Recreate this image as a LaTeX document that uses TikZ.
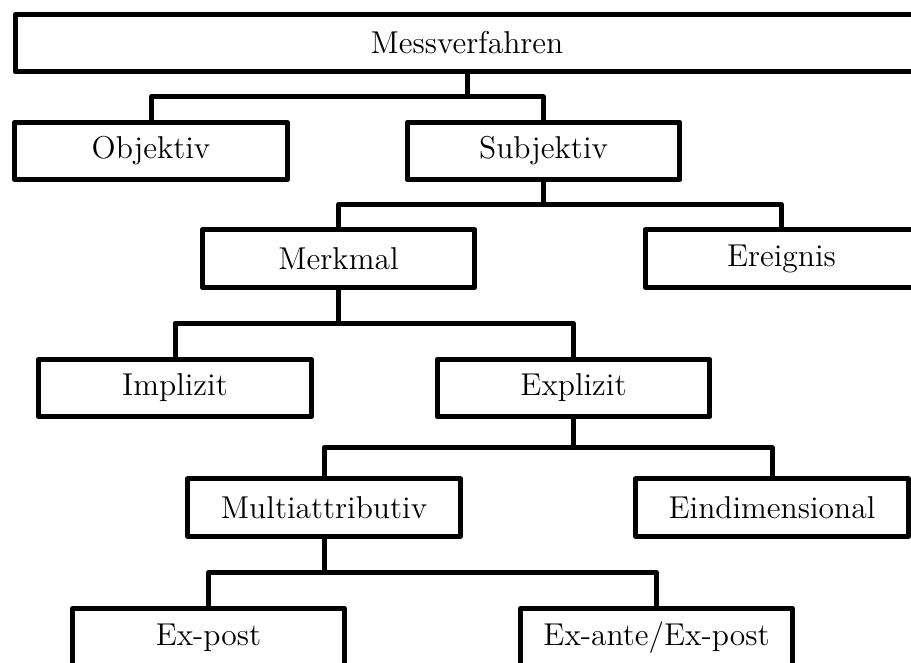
\documentclass[tikz,border=0pt]{standalone}
\usetikzlibrary{calc}

\tikzset{
    box/.style={draw, line width=1.9pt, line join=round, minimum width=103.7pt, minimum height=21.7pt, inner sep=0pt, font=\fontsize{12}{14}\selectfont},
    link/.style={draw, line width=1.9pt, line join=round}
}

\begin{document}
\begin{tikzpicture}[x=0.38pt, y=-0.38pt]
    \useasboundingbox (0,0) rectangle (911,663);
    %oben
    \node[box, minimum width=343.5pt] (mess) at (467,43) {Messverfahren};
    %Ebene 2
    \node[box] (objektiv) at (151,151) {Objektiv};
    \node[box] (subjektiv) at (543.5,151) {Subjektiv};
    %Ebene 3
    \node[box] (merkmal) at (338.5,258.5) {Merkmal};
    \node[box] (ereignis) at (781.5,258.5) {Ereignis};
    %Ebene 4
    \node[box] (implizit) at (175,388) {Implizit};
    \node[box] (explizit) at (573.5,388) {Explizit};
    %Ebene 5
    \node[box] (multi) at (324,507.5) {Multiattributiv};
    \node[box] (eindim) at (772,507.5) {Eindimensional};
    %unten
    \node[box] (expost) at (208.5,637.5) {Ex-post};
    \node[box] (exante) at (656.5,637.5) {Ex-ante/Ex-post};
    %Verbindungen
    \draw[link] (mess.south) |- ($(mess.south)!.5!(objektiv.north)$) -| (objektiv.north);
    \draw[link] (mess.south) |- ($(mess.south)!.5!(subjektiv.north)$) -| (subjektiv.north);
    \draw[link] (subjektiv.south) |- ($(subjektiv.south)!.5!(merkmal.north)$) -| (merkmal.north);
    \draw[link] (subjektiv.south) |- ($(subjektiv.south)!.5!(ereignis.north)$) -| (ereignis.north);
    \draw[link] (merkmal.south) |- ($(merkmal.south)!.5!(implizit.north)$) -| (implizit.north);
    \draw[link] (merkmal.south) |- ($(merkmal.south)!.5!(explizit.north)$) -| (explizit.north);
    \draw[link] (explizit.south) |- ($(explizit.south)!.5!(multi.north)$) -| (multi.north);
    \draw[link] (explizit.south) |- ($(explizit.south)!.5!(eindim.north)$) -| (eindim.north);
    \draw[link] (multi.south) |- ($(multi.south)!.5!(expost.north)$) -| (expost.north);
    \draw[link] (multi.south) |- ($(multi.south)!.5!(exante.north)$) -| (exante.north);
\end{tikzpicture}
\end{document}
